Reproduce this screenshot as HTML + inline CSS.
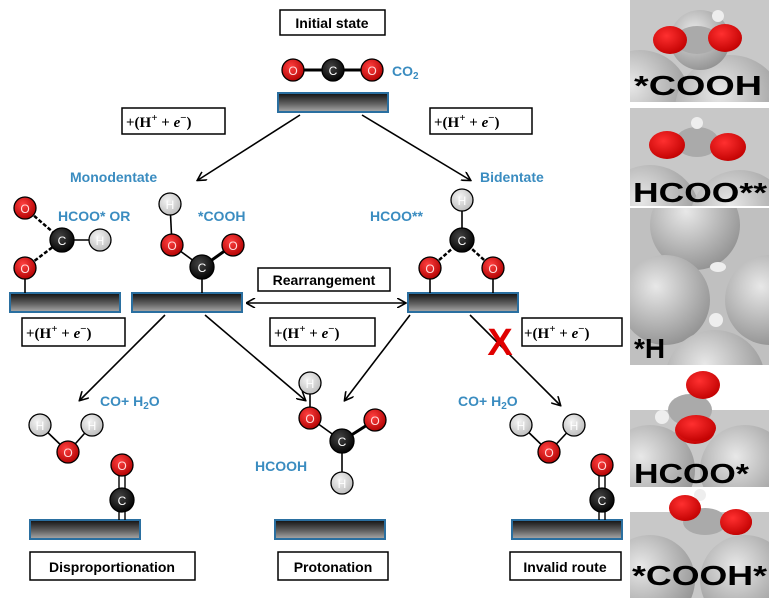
<!DOCTYPE html>
<html><head><meta charset="utf-8"><style>
body{margin:0;background:#fff;width:769px;height:603px;overflow:hidden}
svg{display:block}
.b{font-family:"Liberation Sans",sans-serif;font-weight:bold;fill:#3a8cc0;font-size:14px}
.k{font-family:"Liberation Sans",sans-serif;font-weight:bold;font-size:14px;fill:#000}
.e{font-family:"Liberation Serif",serif;font-weight:bold;font-size:15px;fill:#000}
.big{font-family:"Liberation Sans",sans-serif;font-weight:bold;font-size:28px;fill:#000}
</style></head><body>
<svg width="769" height="603" viewBox="0 0 769 603">
<defs>
<radialGradient id="r" cx="0.4" cy="0.35" r="0.7"><stop offset="0" stop-color="#ff4040"/><stop offset="1" stop-color="#b00000"/></radialGradient>
<radialGradient id="c" cx="0.4" cy="0.35" r="0.7"><stop offset="0" stop-color="#444"/><stop offset="1" stop-color="#000"/></radialGradient>
<radialGradient id="h" cx="0.4" cy="0.35" r="0.7"><stop offset="0" stop-color="#f4f4f4"/><stop offset="1" stop-color="#bbb"/></radialGradient>
<radialGradient id="g" cx="0.4" cy="0.35" r="0.75"><stop offset="0" stop-color="#e8e8e8"/><stop offset="1" stop-color="#8a8a8a"/></radialGradient>
<radialGradient id="rr" cx="0.4" cy="0.35" r="0.7"><stop offset="0" stop-color="#ff3030"/><stop offset="1" stop-color="#c00000"/></radialGradient>
<linearGradient id="bar" x1="0" y1="0" x2="0" y2="1"><stop offset="0" stop-color="#111"/><stop offset="0.6" stop-color="#666"/><stop offset="1" stop-color="#aaa"/></linearGradient>
<marker id="a" markerWidth="10" markerHeight="10" refX="8" refY="5" orient="auto" markerUnits="userSpaceOnUse"><path d="M0,0 L9,5 L0,10" fill="none" stroke="#000" stroke-width="1.6"/></marker>
<marker id="a2" markerWidth="10" markerHeight="10" refX="1" refY="5" orient="auto" markerUnits="userSpaceOnUse"><path d="M9,0 L0,5 L9,10" fill="none" stroke="#000" stroke-width="1.6"/></marker>
</defs>
<g stroke="#000" stroke-width="1.6">
<g fill="url(#bar)" stroke="#2a6fa0" stroke-width="2">
<rect x="278" y="93" width="110" height="19"/>
<rect x="10" y="293" width="110" height="19"/><rect x="132" y="293" width="110" height="19"/><rect x="408" y="293" width="110" height="19"/>
<rect x="30" y="520" width="110" height="19"/><rect x="275" y="520" width="110" height="19"/><rect x="512" y="520" width="110" height="19"/>
</g>
<line x1="300" y1="115" x2="198" y2="180" marker-end="url(#a)"/>
<line x1="362" y1="115" x2="470" y2="180" marker-end="url(#a)"/>
<line x1="165" y1="315" x2="80" y2="400" marker-end="url(#a)"/>
<line x1="205" y1="315" x2="305" y2="400" marker-end="url(#a)"/>
<line x1="410" y1="315" x2="345" y2="400" marker-end="url(#a)"/>
<line x1="470" y1="315" x2="560" y2="405" marker-end="url(#a)"/>
<line x1="247" y1="303" x2="405" y2="303" marker-end="url(#a)" marker-start="url(#a2)"/>
<line x1="293" y1="70" x2="372" y2="70" stroke-width="3"/>
<line x1="25" y1="268" x2="25" y2="293"/>
<line x1="25" y1="208" x2="62" y2="240" stroke-dasharray="4,2" stroke-width="2.5"/><line x1="25" y1="268" x2="62" y2="240" stroke-dasharray="4,2" stroke-width="2.5"/>
<line x1="62" y1="240" x2="100" y2="240"/>
<line x1="170" y1="204" x2="172" y2="245"/><line x1="172" y1="245" x2="202" y2="267"/><line x1="202" y1="267" x2="233" y2="245" stroke-width="3"/><line x1="202" y1="267" x2="202" y2="293"/>
<line x1="462" y1="200" x2="462" y2="240"/><line x1="430" y1="268" x2="462" y2="240" stroke-dasharray="4,2" stroke-width="2.5"/><line x1="493" y1="268" x2="462" y2="240" stroke-dasharray="4,2" stroke-width="2.5"/>
<line x1="430" y1="268" x2="430" y2="293"/><line x1="493" y1="268" x2="493" y2="293"/>
<line x1="40" y1="425" x2="68" y2="452"/><line x1="92" y1="425" x2="68" y2="452"/>
<line x1="119" y1="465" x2="119" y2="520" stroke-width="1.4"/><line x1="125" y1="465" x2="125" y2="520" stroke-width="1.4"/>
<line x1="521" y1="425" x2="549" y2="452"/><line x1="574" y1="425" x2="549" y2="452"/>
<line x1="599" y1="465" x2="599" y2="520" stroke-width="1.4"/><line x1="605" y1="465" x2="605" y2="520" stroke-width="1.4"/>
<line x1="310" y1="383" x2="310" y2="418"/><line x1="310" y1="418" x2="342" y2="441"/><line x1="342" y1="441" x2="375" y2="420" stroke-width="3"/><line x1="342" y1="441" x2="342" y2="483"/>
<g fill="#fff" stroke-width="1.5">
<rect x="280" y="10" width="105" height="25"/>
<rect x="122" y="108" width="103" height="26"/><rect x="430" y="108" width="102" height="26"/>
<rect x="258" y="268" width="132" height="23"/>
<rect x="22" y="318" width="103" height="28"/><rect x="270" y="318" width="105" height="28"/><rect x="522" y="318" width="100" height="28"/>
<rect x="30" y="552" width="165" height="28"/><rect x="278" y="552" width="110" height="28"/><rect x="510" y="552" width="111" height="28"/>
</g>
</g>
<g stroke="#000" stroke-width="1.3" font-family="Liberation Sans,sans-serif" font-size="13" text-anchor="middle">
<g>
<circle cx="293" cy="70" r="11" fill="url(#r)"/><circle cx="333" cy="70" r="11" fill="url(#c)"/><circle cx="372" cy="70" r="11" fill="url(#r)"/>
<circle cx="25" cy="208" r="11" fill="url(#r)"/><circle cx="62" cy="240" r="12" fill="url(#c)"/><circle cx="100" cy="240" r="11" fill="url(#h)"/><circle cx="25" cy="268" r="11" fill="url(#r)"/>
<circle cx="170" cy="204" r="11" fill="url(#h)"/><circle cx="172" cy="245" r="11" fill="url(#r)"/><circle cx="202" cy="267" r="12" fill="url(#c)"/><circle cx="233" cy="245" r="11" fill="url(#r)"/>
<circle cx="462" cy="200" r="11" fill="url(#h)"/><circle cx="462" cy="240" r="12" fill="url(#c)"/><circle cx="430" cy="268" r="11" fill="url(#r)"/><circle cx="493" cy="268" r="11" fill="url(#r)"/>
<circle cx="40" cy="425" r="11" fill="url(#h)"/><circle cx="68" cy="452" r="11" fill="url(#r)"/><circle cx="92" cy="425" r="11" fill="url(#h)"/><circle cx="122" cy="465" r="11" fill="url(#r)"/><circle cx="122" cy="500" r="12" fill="url(#c)"/>
<circle cx="521" cy="425" r="11" fill="url(#h)"/><circle cx="549" cy="452" r="11" fill="url(#r)"/><circle cx="574" cy="425" r="11" fill="url(#h)"/><circle cx="602" cy="465" r="11" fill="url(#r)"/><circle cx="602" cy="500" r="12" fill="url(#c)"/>
<circle cx="310" cy="383" r="11" fill="url(#h)"/><circle cx="310" cy="418" r="11" fill="url(#r)"/><circle cx="342" cy="441" r="12" fill="url(#c)"/><circle cx="375" cy="420" r="11" fill="url(#r)"/><circle cx="342" cy="483" r="11" fill="url(#h)"/>
</g>
<g stroke="none" font-size="12">
<g fill="#fdd"><text x="293" y="75">O</text><text x="372" y="75">O</text><text x="25" y="213">O</text><text x="25" y="273">O</text><text x="172" y="250">O</text><text x="233" y="250">O</text><text x="430" y="273">O</text><text x="493" y="273">O</text><text x="68" y="457">O</text><text x="122" y="470">O</text><text x="549" y="457">O</text><text x="602" y="470">O</text><text x="310" y="423">O</text><text x="375" y="425">O</text></g>
<g fill="#fff"><text x="333" y="75">C</text><text x="62" y="245">C</text><text x="202" y="272">C</text><text x="462" y="245">C</text><text x="122" y="505">C</text><text x="602" y="505">C</text><text x="342" y="446">C</text></g>
<g fill="#fff"><text x="100" y="245">H</text><text x="170" y="209">H</text><text x="462" y="205">H</text><text x="40" y="430">H</text><text x="92" y="430">H</text><text x="521" y="430">H</text><text x="574" y="430">H</text><text x="310" y="388">H</text><text x="342" y="488">H</text></g>
</g>
</g>
<text x="500" y="355" text-anchor="middle" font-family="Liberation Sans,sans-serif" font-weight="bold" font-size="38" fill="#e00000">X</text>
<text class="k" x="332" y="28" text-anchor="middle">Initial state</text>
<text class="b" x="392" y="76">CO<tspan font-size="10" dy="3">2</tspan></text>
<text class="e" x="126" y="127">+(H<tspan font-size="11" dy="-6">+</tspan><tspan dy="6"> + </tspan><tspan font-style="italic">e</tspan><tspan font-size="11" dy="-6">−</tspan><tspan dy="6">)</tspan></text>
<text class="e" x="434" y="127">+(H<tspan font-size="11" dy="-6">+</tspan><tspan dy="6"> + </tspan><tspan font-style="italic">e</tspan><tspan font-size="11" dy="-6">−</tspan><tspan dy="6">)</tspan></text>
<text class="e" x="26" y="338">+(H<tspan font-size="11" dy="-6">+</tspan><tspan dy="6"> + </tspan><tspan font-style="italic">e</tspan><tspan font-size="11" dy="-6">−</tspan><tspan dy="6">)</tspan></text>
<text class="e" x="274" y="338">+(H<tspan font-size="11" dy="-6">+</tspan><tspan dy="6"> + </tspan><tspan font-style="italic">e</tspan><tspan font-size="11" dy="-6">−</tspan><tspan dy="6">)</tspan></text>
<text class="e" x="524" y="338">+(H<tspan font-size="11" dy="-6">+</tspan><tspan dy="6"> + </tspan><tspan font-style="italic">e</tspan><tspan font-size="11" dy="-6">−</tspan><tspan dy="6">)</tspan></text>
<text class="b" x="70" y="182">Monodentate</text>
<text class="b" x="480" y="182">Bidentate</text>
<text class="b" x="58" y="221">HCOO* OR</text>
<text class="b" x="198" y="221">*COOH</text>
<text class="b" x="370" y="221">HCOO**</text>
<text class="k" x="324" y="285" text-anchor="middle">Rearrangement</text>
<text class="b" x="100" y="406">CO+ H<tspan font-size="10" dy="3">2</tspan><tspan dy="-3">O</tspan></text>
<text class="b" x="458" y="406">CO+ H<tspan font-size="10" dy="3">2</tspan><tspan dy="-3">O</tspan></text>
<text class="b" x="255" y="471">HCOOH</text>
<text class="k" x="112" y="572" text-anchor="middle">Disproportionation</text>
<text class="k" x="333" y="572" text-anchor="middle">Protonation</text>
<text class="k" x="565" y="572" text-anchor="middle">Invalid route</text>

<svg x="630" y="0" width="139" height="102" overflow="hidden">
<rect width="139" height="102" fill="#c8c8c8"/>
<circle cx="10" cy="100" r="50" fill="url(#g)"/><circle cx="100" cy="110" r="55" fill="url(#g)"/><circle cx="70" cy="40" r="30" fill="url(#g)"/>
<ellipse cx="67" cy="40" rx="22" ry="14" fill="#aaa"/>
<ellipse cx="40" cy="40" rx="17" ry="14" fill="url(#rr)"/><ellipse cx="95" cy="38" rx="17" ry="14" fill="url(#rr)"/><circle cx="88" cy="16" r="6" fill="#eee"/>
<text class="big" x="4" y="95" textLength="128" lengthAdjust="spacingAndGlyphs">*COOH</text>
</svg>
<svg x="630" y="108" width="139" height="98" overflow="hidden">
<rect width="139" height="98" fill="#c8c8c8"/>
<circle cx="20" cy="107" r="50" fill="url(#g)"/><circle cx="110" cy="112" r="50" fill="url(#g)"/>
<ellipse cx="67" cy="34" rx="22" ry="15" fill="#aaa"/><circle cx="67" cy="15" r="6" fill="#eee"/>
<ellipse cx="37" cy="37" rx="18" ry="14" fill="url(#rr)"/><ellipse cx="98" cy="39" rx="18" ry="14" fill="url(#rr)"/>
<text class="big" x="3" y="94" textLength="134" lengthAdjust="spacingAndGlyphs">HCOO**</text>
</svg>
<svg x="630" y="208" width="139" height="157" overflow="hidden">
<rect width="139" height="157" fill="#c0c0c0"/>
<circle cx="65" cy="17" r="45" fill="url(#g)"/><circle cx="35" cy="92" r="45" fill="url(#g)"/><circle cx="140" cy="92" r="45" fill="url(#g)"/><circle cx="85" cy="172" r="50" fill="url(#g)"/>
<ellipse cx="88" cy="59" rx="8" ry="5" fill="#eee"/><circle cx="86" cy="112" r="7" fill="#eee"/>
<text class="big" x="4" y="150">*H</text>
</svg>
<svg x="630" y="410" width="139" height="77" overflow="hidden">
<rect width="139" height="77" fill="#c8c8c8"/>
<circle cx="20" cy="60" r="45" fill="url(#g)"/><circle cx="115" cy="60" r="45" fill="url(#g)"/>
<ellipse cx="65" cy="20" rx="20" ry="14" fill="url(#rr)"/>
<text class="big" x="4" y="73" textLength="115" lengthAdjust="spacingAndGlyphs">HCOO*</text>
</svg>
<ellipse cx="690" cy="410" rx="22" ry="16" fill="#aaa"/><circle cx="662" cy="417" r="7" fill="#eee"/>
<ellipse cx="703" cy="385" rx="17" ry="14" fill="url(#rr)"/><ellipse cx="696" cy="428" rx="20" ry="13" fill="url(#rr)"/>
<svg x="630" y="512" width="139" height="86" overflow="hidden">
<rect width="139" height="86" fill="#c8c8c8"/>
<circle cx="20" cy="68" r="45" fill="url(#g)"/><circle cx="115" cy="68" r="45" fill="url(#g)"/>
<ellipse cx="75" cy="10" rx="22" ry="13" fill="#aaa"/>
<ellipse cx="106" cy="10" rx="16" ry="13" fill="url(#rr)"/>
<text class="big" x="2" y="73" textLength="135" lengthAdjust="spacingAndGlyphs">*COOH*</text>
</svg>
<ellipse cx="705" cy="519" rx="20" ry="11" fill="#aaa"/><circle cx="700" cy="495" r="6" fill="#eee"/>
<ellipse cx="685" cy="508" rx="16" ry="13" fill="url(#rr)"/><ellipse cx="736" cy="522" rx="16" ry="13" fill="url(#rr)"/>
</svg>
</body></html>
